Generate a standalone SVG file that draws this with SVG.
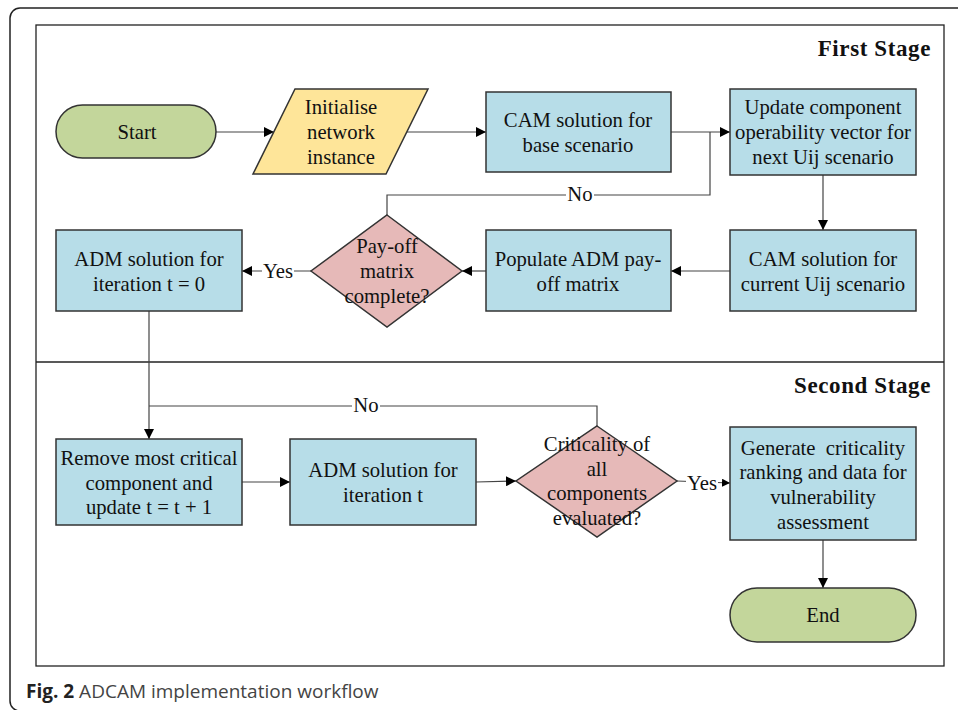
<svg xmlns="http://www.w3.org/2000/svg" width="958" height="710" viewBox="0 0 958 710">
<defs>
<marker id="arr" markerWidth="10" markerHeight="10" refX="10" refY="5" orient="auto" markerUnits="userSpaceOnUse">
<path d="M0,0 L10,5 L0,10 Z" fill="#000"/>
</marker>
<marker id="arrs" markerWidth="8" markerHeight="8" refX="8" refY="4" orient="auto" markerUnits="userSpaceOnUse">
<path d="M0,0 L8,4 L0,8 Z" fill="#000"/>
</marker>
</defs>
<style>
.t{font-family:"Liberation Serif","Times New Roman",serif;font-size:20.7px;fill:#111;text-anchor:middle}
.lbl{font-family:"Liberation Serif","Times New Roman",serif;font-size:20.7px;fill:#111;text-anchor:middle}
.stage{font-family:"Liberation Serif","Times New Roman",serif;font-size:23px;font-weight:bold;letter-spacing:0.6px;fill:#111;text-anchor:end}
.box{fill:#b7dde8;stroke:#333;stroke-width:1.5}
.term{fill:#c3d69b;stroke:#333;stroke-width:1.5}
.io{fill:#fee599;stroke:#333;stroke-width:1.5}
.dec{fill:#e6b9b8;stroke:#333;stroke-width:1.5}
.c{fill:none;stroke:#444;stroke-width:1.2}
.cap{font-family:"Open Sans","DejaVu Sans",sans-serif;font-size:19px;fill:#444}
</style>
<rect x="10" y="8" width="990" height="703" rx="10" fill="#fff" stroke="#222" stroke-width="1.5"/>
<rect x="36" y="25" width="908" height="641" fill="#fff" stroke="#222" stroke-width="1.3"/>
<line x1="36" y1="362" x2="944" y2="362" stroke="#222" stroke-width="1.3"/>
<text class="stage" x="931" y="56">First Stage</text>
<text class="stage" x="931" y="393">Second Stage</text>

<g id="connectors">
<line class="c" x1="216" y1="132" x2="274" y2="132" marker-end="url(#arr)"/>
<line class="c" x1="407" y1="132" x2="486" y2="132" marker-end="url(#arr)"/>
<line class="c" x1="671" y1="132" x2="730" y2="132" marker-end="url(#arr)"/>
<polyline class="c" points="387,215 387,195 710,195 710,132"/>
<line class="c" x1="823" y1="175" x2="823" y2="230" marker-end="url(#arr)"/>
<line class="c" x1="730" y1="271" x2="671" y2="271" marker-end="url(#arr)"/>
<line class="c" x1="486" y1="271" x2="462" y2="271" marker-end="url(#arr)"/>
<line class="c" x1="311" y1="271" x2="242" y2="271" marker-end="url(#arr)"/>
<line class="c" x1="149" y1="311" x2="149" y2="439" marker-end="url(#arr)"/>
<polyline class="c" points="597,426 597,406 149,406"/>
<line class="c" x1="242" y1="482" x2="290" y2="482" marker-end="url(#arr)"/>
<line class="c" x1="476" y1="482" x2="516" y2="481" marker-end="url(#arr)"/>
<line class="c" x1="677" y1="481" x2="730" y2="483" marker-end="url(#arrs)"/>
<line class="c" x1="823" y1="540" x2="823" y2="588" marker-end="url(#arr)"/>
<rect x="566" y="184" width="28" height="20" fill="#fff"/>
<text class="lbl" x="580" y="201">No</text>
<rect x="262" y="260" width="32" height="22" fill="#fff"/>
<text class="lbl" x="278" y="278">Yes</text>
<rect x="352" y="396" width="28" height="20" fill="#fff"/>
<text class="lbl" x="366" y="412">No</text>
<rect x="686" y="472" width="32" height="22" fill="#fff"/>
<text class="lbl" x="702" y="490">Yes</text>
</g>

<g id="start">
<rect class="term" x="56" y="105" width="160" height="53" rx="26.5"/>
<text class="t" x="137" y="139">Start</text>
</g>
<g id="init">
<polygon class="io" points="295,89 428,89 386,174 253,174"/>
<text class="t" x="341" y="114">Initialise</text>
<text class="t" x="341" y="139">network</text>
<text class="t" x="341" y="164">instance</text>
</g>
<g id="cam-base">
<rect class="box" x="486" y="92" width="185" height="80"/>
<text class="t" x="578" y="127">CAM solution for</text>
<text class="t" x="578" y="152">base scenario</text>
</g>
<g id="update">
<rect class="box" x="730" y="89" width="186" height="86"/>
<text class="t" x="823" y="114">Update component</text>
<text class="t" x="823" y="139">operability vector for</text>
<text class="t" x="823" y="164">next Uij scenario</text>
</g>
<g id="cam-current">
<rect class="box" x="730" y="230" width="186" height="81"/>
<text class="t" x="823" y="266">CAM solution for</text>
<text class="t" x="823" y="291">current Uij scenario</text>
</g>
<g id="populate">
<rect class="box" x="486" y="230" width="185" height="81"/>
<text class="t" x="578" y="266">Populate ADM pay-</text>
<text class="t" x="578" y="291">off matrix</text>
</g>
<g id="payoff">
<polygon class="dec" points="387,215 462,271 387,327 311,271"/>
<text class="t" x="387" y="253">Pay-off</text>
<text class="t" x="387" y="278">matrix</text>
<text class="t" x="387" y="303">complete?</text>
</g>
<g id="adm0">
<rect class="box" x="56" y="230" width="186" height="81"/>
<text class="t" x="149" y="266">ADM solution for</text>
<text class="t" x="149" y="291">iteration t = 0</text>
</g>
<g id="remove">
<rect class="box" x="56" y="439" width="186" height="86"/>
<text class="t" x="149" y="465">Remove most critical</text>
<text class="t" x="149" y="490">component and</text>
<text class="t" x="149" y="514">update t = t + 1</text>
</g>
<g id="admt">
<rect class="box" x="290" y="439" width="186" height="86"/>
<text class="t" x="383" y="477">ADM solution for</text>
<text class="t" x="383" y="502">iteration t</text>
</g>
<g id="criticality">
<polygon class="dec" points="597,426 677,481 597,537 516,481"/>
<text class="t" x="597" y="451">Criticality of</text>
<text class="t" x="597" y="476">all</text>
<text class="t" x="597" y="500">components</text>
<text class="t" x="597" y="525">evaluated?</text>
</g>
<g id="generate">
<rect class="box" x="730" y="427" width="186" height="113"/>
<text class="t" x="823" y="455" xml:space="preserve">Generate  criticality</text>
<text class="t" x="823" y="479">ranking and data for</text>
<text class="t" x="823" y="504">vulnerability</text>
<text class="t" x="823" y="529">assessment</text>
</g>
<g id="end">
<rect class="term" x="730" y="588" width="186" height="54" rx="27"/>
<text class="t" x="823" y="622">End</text>
</g>
<text class="cap" x="26" y="698"><tspan font-weight="bold" fill="#222">Fig. 2</tspan> ADCAM implementation workflow</text>
</svg>
